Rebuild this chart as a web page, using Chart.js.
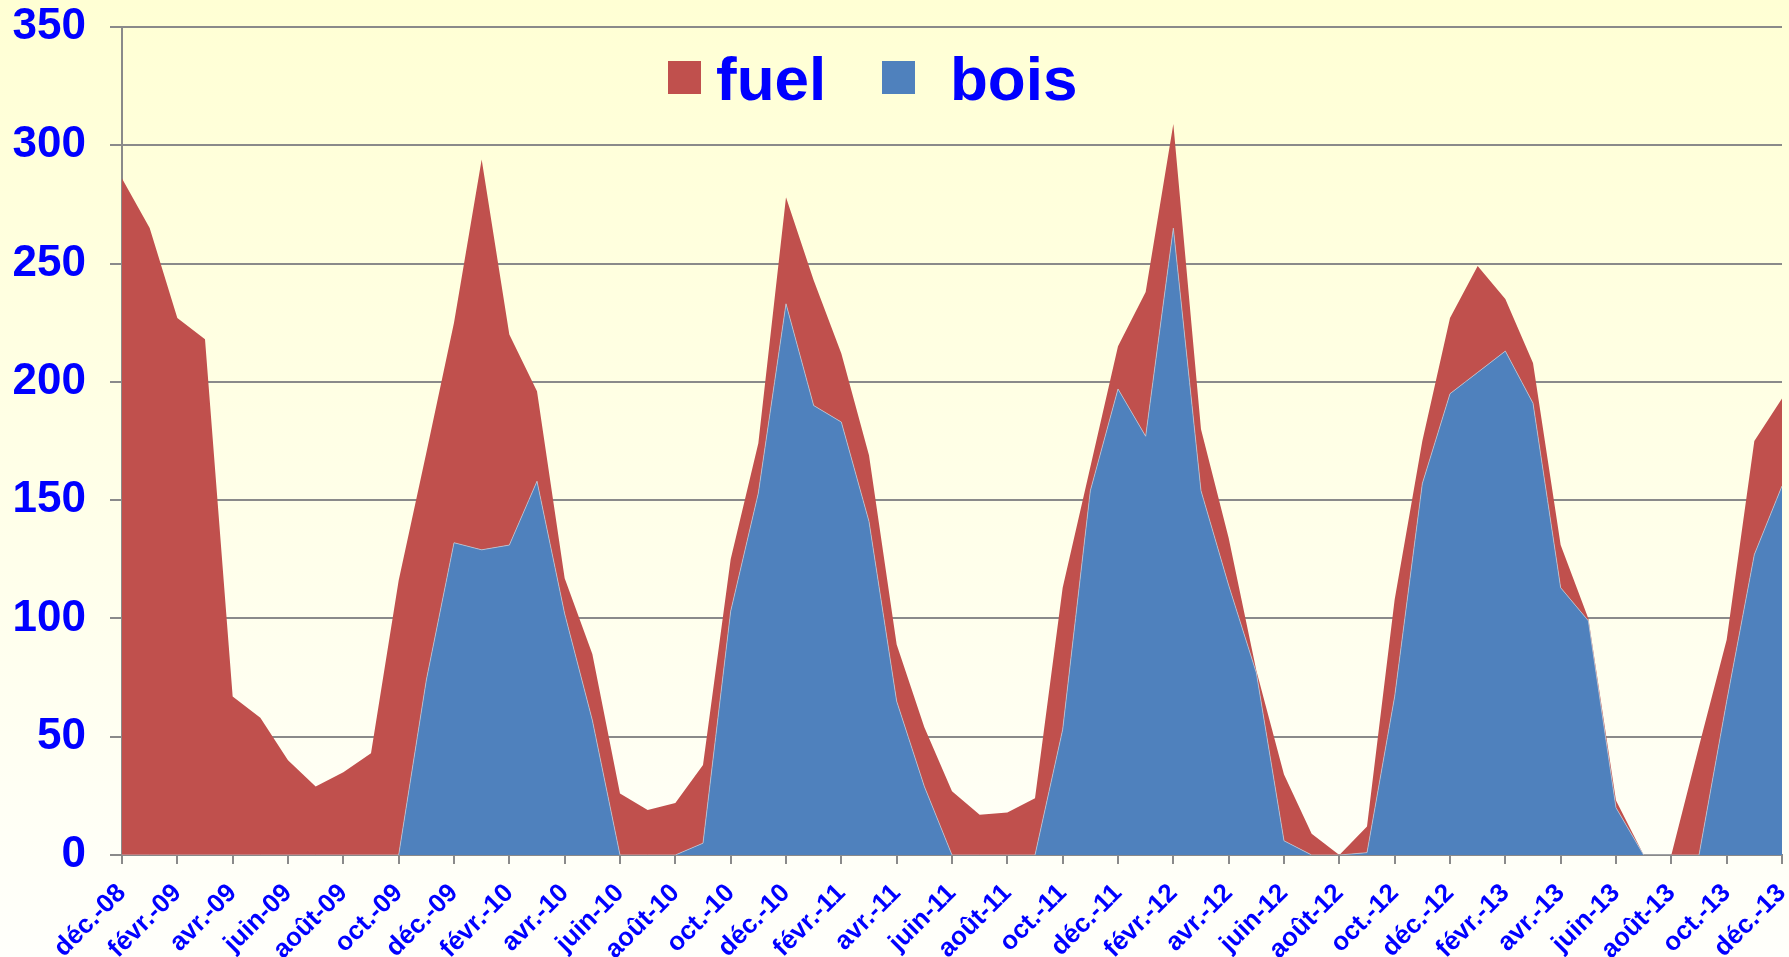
<!DOCTYPE html>
<html lang="fr">
<head>
<meta charset="utf-8">
<title>fuel / bois</title>
<script src="https://cdn.jsdelivr.net/npm/chart.js@4.4.1/dist/chart.umd.min.js"></script>
<style>
  html, body { margin: 0; padding: 0; }
  body {
    width: 1789px;
    height: 957px;
    overflow: hidden;
    background: linear-gradient(to bottom, #ffffd4, #fffffb);
  }
  canvas { display: block; }
</style>
</head>
<body>
<canvas id="graphe" width="1789" height="957"></canvas>
<script>
// mois de déc. 2008 à déc. 2013 (une étiquette sur deux est affichée)
const mois = [
    "déc.-08",
    "janv.-09", "févr.-09", "mars-09", "avr.-09", "mai-09", "juin-09",
    "juil.-09", "août-09", "sept.-09", "oct.-09", "nov.-09", "déc.-09",
    "janv.-10", "févr.-10", "mars-10", "avr.-10", "mai-10", "juin-10",
    "juil.-10", "août-10", "sept.-10", "oct.-10", "nov.-10", "déc.-10",
    "janv.-11", "févr.-11", "mars-11", "avr.-11", "mai-11", "juin-11",
    "juil.-11", "août-11", "sept.-11", "oct.-11", "nov.-11", "déc.-11",
    "janv.-12", "févr.-12", "mars-12", "avr.-12", "mai-12", "juin-12",
    "juil.-12", "août-12", "sept.-12", "oct.-12", "nov.-12", "déc.-12",
    "janv.-13", "févr.-13", "mars-13", "avr.-13", "mai-13", "juin-13",
    "juil.-13", "août-13", "sept.-13", "oct.-13", "nov.-13", "déc.-13"
];

const bois = [
    0,
    0, 0, 0, 0, 0, 0, 0, 0, 0, 0, 74, 132,
    129, 131, 158, 102, 57, 0, 0, 0, 5, 103, 153, 233,
    190, 183, 141, 65, 29, 0, 0, 0, 0, 53, 154, 197,
    177, 265, 154, 114, 77, 6, 0, 0, 1, 67, 157, 195,
    204, 213, 191, 113, 99, 20, 0, 0, 0, 65, 127, 156
];

const fuel = [
    286,
    265, 227, 218, 67, 58, 40, 29, 35, 43, 116, 96, 93,
    165, 89, 38, 15, 28, 26, 19, 22, 33, 22, 21, 45,
    53, 29, 28, 24, 25, 27, 17, 18, 24, 60, 10, 18,
    61, 44, 26, 20, 1, 28, 9, 0, 11, 41, 18, 32,
    45, 22, 17, 18, 1, 3, 0, 0, 46, 26, 48, 37
];

const axeY = { min: 0, max: 350, pas: 50 };

const bleu = "#0000ff";
const gris = "#8a8a8a";
const police = '"Liberation Sans", Arial, sans-serif';

// légende dessinée dans la zone du graphique, comme dans Excel
const legende = {
    id: "legende",
    afterDraw(chart) {
        const ctx = chart.ctx;
        const items = [
            { ds: 1, carre: 668, texte: 716 },
            { ds: 0, carre: 882, texte: 950 }
        ];
        ctx.save();
        ctx.font = "bold 62px " + police;
        ctx.textBaseline = "alphabetic";
        items.forEach(function (it) {
            const ds = chart.data.datasets[it.ds];
            ctx.fillStyle = ds.backgroundColor;
            ctx.fillRect(it.carre, 61, 33, 33);
            ctx.fillStyle = bleu;
            ctx.fillText(ds.label, it.texte, 100);
        });
        ctx.restore();
    }
};

const ctx = document.getElementById("graphe").getContext("2d");
new Chart(ctx, {
    type: "line",
    data: {
        labels: mois,
        datasets: [
            {
                label: "bois",
                data: bois,
                backgroundColor: "#4f81bd",
                borderColor: "rgba(200, 205, 215, 0.7)",
                borderWidth: 1,
                fill: "origin",
                pointRadius: 0,
                tension: 0
            },
            {
                label: "fuel",
                data: fuel,
                backgroundColor: "#c0504d",
                borderWidth: 0,
                fill: "-1",
                pointRadius: 0,
                tension: 0
            }
        ]
    },
    options: {
        responsive: false,
        animation: false,
        layout: { padding: { top: 27, right: 7, left: 0, bottom: 0 } },
        plugins: {
            legend: { display: false },
            tooltip: { enabled: false }
        },
        scales: {
            x: {
                offset: false,
                afterFit: function (s) {
                    s.height = 102;
                    s.paddingLeft = 0;
                    s.paddingRight = 0;
                },
                grid: {
                    drawOnChartArea: false,
                    color: gris,
                    tickColor: c => (c.index % 2 === 0 ? gris : "rgba(0,0,0,0)"),
                    lineWidth: 2,
                    tickLength: 9
                },
                border: { display: true, color: gris, width: 2 },
                ticks: {
                    autoSkip: false,
                    maxRotation: 45,
                    minRotation: 45,
                    padding: 14,
                    color: bleu,
                    font: { family: police, size: 26, weight: "bold" },
                    callback: function (v, i) { return i % 2 === 0 ? mois[i] : ""; }
                }
            },
            y: {
                stacked: true,
                min: axeY.min,
                max: axeY.max,
                afterFit: function (s) {
                    s.width = 122;
                    s.paddingTop = 0;
                    s.paddingBottom = 0;
                },
                grid: {
                    color: gris,
                    lineWidth: 2,
                    tickLength: 12
                },
                border: { display: true, color: gris, width: 2 },
                ticks: {
                    stepSize: axeY.pas,
                    padding: 24,
                    color: bleu,
                    font: { family: police, size: 44, weight: "bold" }
                }
            }
        }
    },
    plugins: [legende]
});
</script>
</body>
</html>
